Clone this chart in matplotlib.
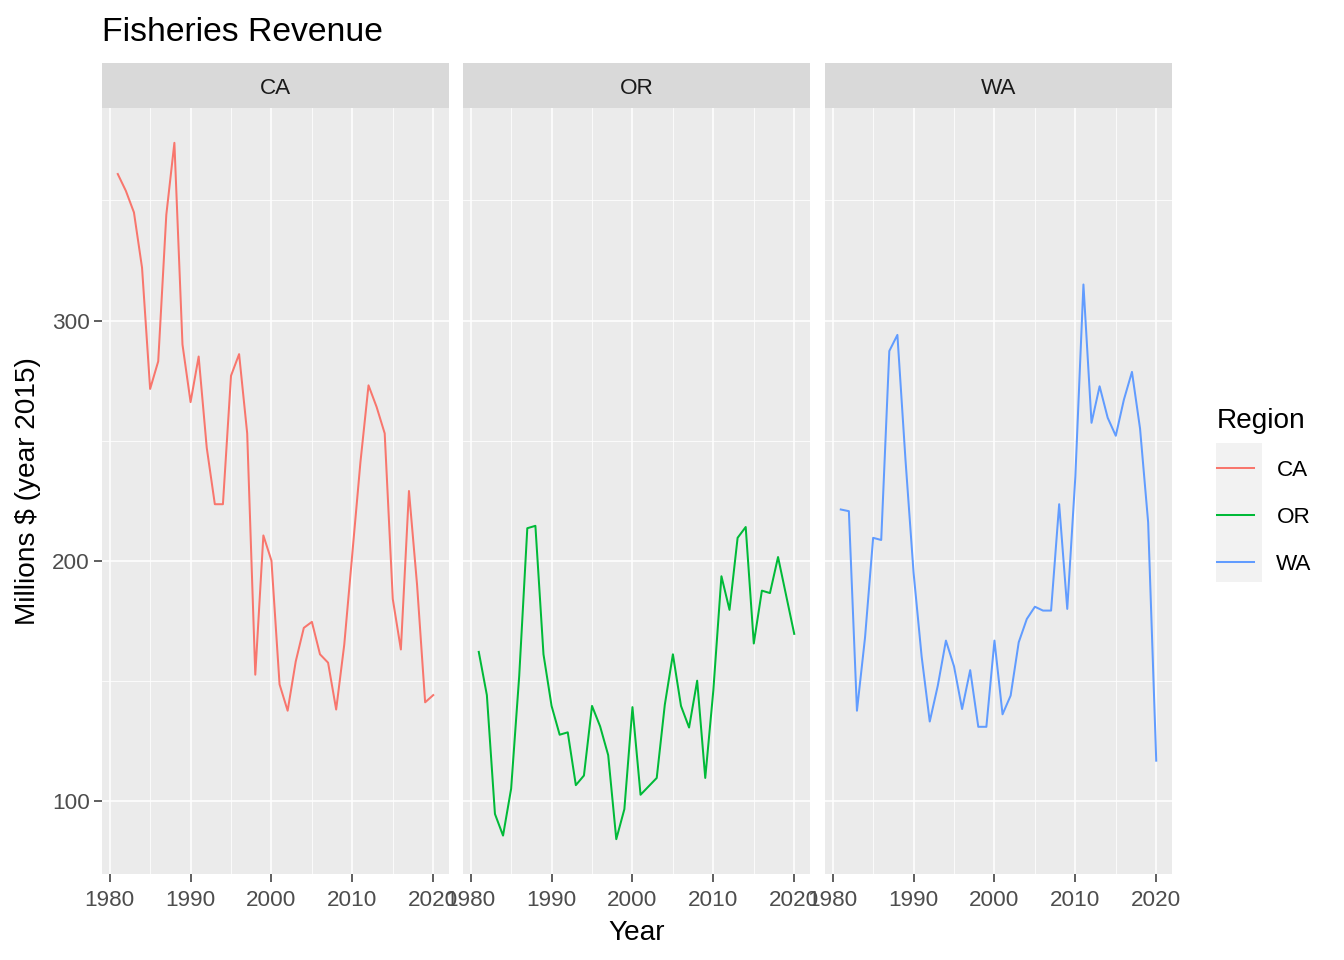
import matplotlib
matplotlib.use('Agg')
import matplotlib.pyplot as plt
from matplotlib.patches import Rectangle

plt.rcParams['font.family'] = ['Liberation Sans', 'DejaVu Sans']

years = list(range(1981, 2021))
ca = [361, 354, 345, 322, 271.5, 283, 344, 374, 290, 266,
      285, 247, 223.5, 223.5, 277, 286, 253, 152.5, 210.5, 200,
      148.5, 137.5, 158, 172, 174.5, 161, 157.5, 138, 165, 203,
      241, 273, 264, 253, 184, 163, 229, 190, 141, 144]
or_vals = [162, 144, 94.5, 85.5, 105, 152, 213.5, 214.5, 161, 139.5,
           127.5, 128.5, 106.5, 110.5, 139.5, 131, 119, 84, 96.5, 139,
           102.5, 106, 109.5, 140, 161, 139.5, 130.5, 150, 109.5, 146,
           193.5, 179.5, 209.5, 214, 165.5, 187.5, 186.5, 201.5, 185.5, 169.5]
wa = [221.3, 220.6, 137.5, 168, 209.5, 208.6, 287.3, 294, 242, 195,
      160, 133, 148, 166.7, 156, 138.2, 154.4, 130.8, 130.8, 166.7,
      136, 143.8, 166, 175.7, 180.8, 179.2, 179.2, 223.5, 179.9, 235,
      315, 257.4, 272.6, 259.5, 252, 267, 278.6, 255, 216, 116.7]

regions = ['CA', 'OR', 'WA']
series = [ca, or_vals, wa]
colors = ['#F8766D', '#00BA38', '#619CFF']
x_ticks = [1980, 1990, 2000, 2010, 2020]
x_minor = [1985, 1995, 2005, 2015]
y_ticks = [100, 200, 300]
y_minor = [150, 250, 350]

W, H = 1344, 960
fig = plt.figure(figsize=(W / 100, H / 100), dpi=100)

def fx(px):
    return px / W

def fy(py):
    return 1 - py / H

panels = [(102, 449), (463, 810), (825, 1172)]
top, bottom, strip_top = 108, 874, 63

allv = ca + or_vals + wa
ymin, ymax = min(allv), max(allv)
ypad = 0.05 * (ymax - ymin)
xpad = 0.05 * (years[-1] - years[0])

tick_fs = 16.2
handles = []
for i, ((l, r), reg, vals, col) in enumerate(zip(panels, regions, series, colors)):
    ax = fig.add_axes([fx(l), fy(bottom), (r - l) / W, (bottom - top) / H])
    ax.set_facecolor('#EBEBEB')
    for s in ax.spines.values():
        s.set_visible(False)
    ln, = ax.plot(years, vals, color=col, linewidth=1.45, zorder=3)
    handles.append(ln)
    ax.set_xlim(years[0] - xpad, years[-1] + xpad)
    ax.set_ylim(ymin - ypad, ymax + ypad)
    ax.set_xticks(x_ticks)
    ax.set_xticks(x_minor, minor=True)
    ax.set_yticks(y_ticks)
    ax.set_yticks(y_minor, minor=True)
    ax.grid(which='major', color='white', linewidth=1.1, zorder=0)
    ax.grid(which='minor', color='white', linewidth=0.55, zorder=0)
    ax.set_axisbelow(True)
    ax.tick_params(which='minor', length=0)
    ax.tick_params(which='major', length=5.8, width=1.1, color='#333333',
                   labelcolor='#4D4D4D', labelsize=tick_fs, pad=3)
    ax.tick_params(axis='x', which='major', pad=6)
    if i > 0:
        ax.tick_params(axis='y', which='major', length=0, labelleft=False)
    # strip
    sax = fig.add_axes([fx(l), fy(top), (r - l) / W, (top - strip_top) / H])
    sax.set_facecolor('#D9D9D9')
    sax.set_xticks([])
    sax.set_yticks([])
    for s in sax.spines.values():
        s.set_visible(False)
    sax.text(0.5, 0.44, reg, ha='center', va='center', fontsize=tick_fs,
             color='#1A1A1A', transform=sax.transAxes)

fig.text(fx(102), fy(41), 'Fisheries Revenue', fontsize=24.3, ha='left',
         va='baseline', color='black')
fig.text(fx(637), fy(940), 'Year', fontsize=20.2, ha='center',
         va='baseline', color='black')
fig.text(fx(28), fy((top + bottom) / 2), r'Millions \$ (year 2015)',
         fontsize=20.2, rotation=90, ha='center', va='center', color='black')

# legend key background
fig.patches.append(Rectangle((fx(1216), fy(582)), 46 / W, (582 - 443) / H,
                             transform=fig.transFigure, facecolor='#F2F2F2',
                             edgecolor='none', zorder=0))
leg = fig.legend(handles, regions, title='Region', loc='upper left',
                 bbox_to_anchor=(fx(1217), fy(408)), frameon=False,
                 fontsize=tick_fs, title_fontsize=20.2, handlelength=1.64,
                 handletextpad=1.0, labelspacing=1.15, borderpad=0,
                 borderaxespad=0, alignment='left')

fig.savefig('out.png', dpi=100)
